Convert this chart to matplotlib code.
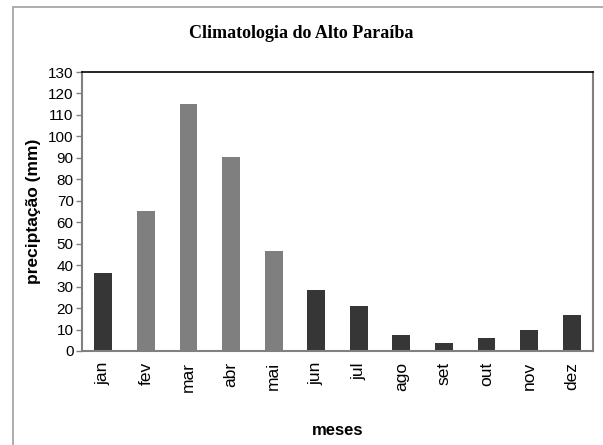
import matplotlib
matplotlib.use("Agg")
import matplotlib.pyplot as plt
from matplotlib.patches import Rectangle
import numpy as np

months = ["jan", "fev", "mar", "abr", "mai", "jun", "jul", "ago", "set", "out", "nov", "dez"]
precip = [36.5, 65.2, 115.2, 90.4, 46.6, 28.4, 21.0, 7.5, 3.7, 6.1, 9.8, 16.8]
wet = [False, True, True, True, True, False, False, False, False, False, False, False]
yticks = list(range(0, 131, 10))

dark = "#363636"
light = "#7f7f7f"
sans = ["Liberation Sans", "DejaVu Sans"]

fig = plt.figure(figsize=(6.03, 4.45), dpi=100)
ax = fig.add_axes([82 / 603, 1 - 351 / 445, 511 / 603, 279 / 445])

x = np.arange(len(months))
colors = [light if w else dark for w in wet]
ax.bar(x, precip, width=0.42, color=colors)

ax.set_xlim(-0.5, len(months) - 0.5)
ax.set_ylim(0, 130)
ax.set_yticks(yticks)
ax.set_yticklabels([str(t) for t in yticks], family=sans, fontsize=11)
ax.set_xticks(x)
ax.set_xticklabels(months, rotation=90, family=sans, fontsize=12.5, va="top")
ax.tick_params(axis="x", length=0, pad=8)
ax.tick_params(axis="y", length=4, color="#808080", pad=2, width=1)

for side in ["left", "bottom"]:
    ax.spines[side].set_color("#808080")
    ax.spines[side].set_linewidth(1.5)
ax.spines["top"].set_color("black")
ax.spines["top"].set_linewidth(1.2)
ax.spines["right"].set_color("#808080")
ax.spines["right"].set_linewidth(1.5)

ax.set_ylabel("preciptação (mm)", family=sans, fontsize=12.5, fontweight="bold", labelpad=5)
ax.set_xlabel("meses", family=sans, fontsize=12, fontweight="bold", labelpad=22)

fig.text(0.5, 1 - 34 / 445, "Climatologia do Alto Paraíba", ha="center", va="center",
         family=["Liberation Serif", "DejaVu Serif"], fontsize=13, fontweight="bold")

# outer chart frame (only left/top visible in crop)
fig.patches.append(Rectangle((12.5 / 603, -0.1), 1.2, 1.1 - 7.5 / 445,
                             transform=fig.transFigure, fill=False,
                             edgecolor="#a0a0a0", linewidth=1.2, clip_on=False))

fig.savefig("out.png", dpi=100)
